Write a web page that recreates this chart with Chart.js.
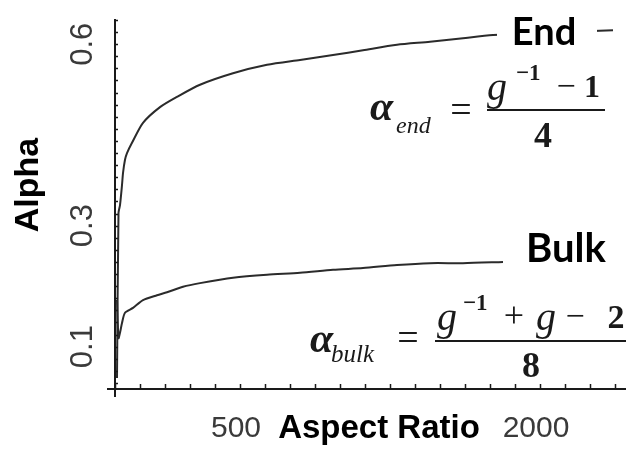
<!DOCTYPE html>
<html>
<head>
<meta charset="utf-8">
<script src="https://cdn.jsdelivr.net/npm/chart.js@4/dist/chart.umd.min.js"></script>
<style>
  html, body { margin: 0; padding: 0; background: #ffffff; }
  #wrap { position: relative; width: 626px; height: 450px; }
</style>
</head>
<body>
<div id="wrap"><canvas id="c" width="626" height="450"></canvas></div>
<script>
// Aspect ratio (x) and relaxation coefficient alpha (y) for the two regions
const aspectEnd = [-115, -107.5, -100, -90, -85, -75, -65, -40, 15, 100, 185, 300, 465, 635, 800, 965, 1115, 1285, 1450, 1615, 1765, 2365];
const alphaEnd  = [0.048, 0.321, 0.334, 0.367, 0.387, 0.409, 0.420, 0.437, 0.470, 0.496, 0.513, 0.533, 0.552, 0.566, 0.574, 0.582, 0.590, 0.599, 0.604, 0.610, 0.615, 0.623];

const aspectBulk = [-115, -107.5, -100, -90, -75, -35, 15, 85, 135, 215, 300, 465, 635, 800, 965, 1115, 1285, 1450, 1615, 1815];
const alphaBulk  = [0.177, 0.114, 0.123, 0.139, 0.156, 0.164, 0.177, 0.185, 0.190, 0.199, 0.205, 0.214, 0.219, 0.222, 0.227, 0.230, 0.235, 0.238, 0.238, 0.240];

// Axis labelling
const xTickLabels = [500, 2000];
const yTickLabels = [0.1, 0.3, 0.6];
const xMinorStep = 125;
const yMinorStep = 0.02;

const toPoints = (xs, ys) => xs.map((x, i) => ({ x: x, y: ys[i] }));

const INK = '#1a1a1a';

function txt(ctx, s, x, y, font, align, color) {
  ctx.font = font;
  ctx.textAlign = align || 'left';
  ctx.textBaseline = 'alphabetic';
  ctx.fillStyle = color || INK;
  ctx.fillText(s, x, y);
}

const decor = {
  id: 'decor',
  afterDraw(chart) {
    const ctx = chart.ctx;
    const xs = chart.scales.x, ys = chart.scales.y;
    const L = xs.left, B = ys.bottom;
    ctx.save();

    // axis stubs past the origin
    ctx.strokeStyle = INK;
    ctx.lineWidth = 2;
    ctx.beginPath();
    ctx.moveTo(L - 8, B); ctx.lineTo(L, B);
    ctx.moveTo(L, B); ctx.lineTo(L, B + 8);
    ctx.stroke();

    // minor tick marks, drawn inward
    ctx.lineWidth = 1.5;
    ctx.beginPath();
    for (let v = xs.min; v <= xs.max + 1e-6; v += xMinorStep) {
      const p = Math.round(xs.getPixelForValue(v)) + 0.5;
      ctx.moveTo(p, B); ctx.lineTo(p, B - 5);
    }
    for (let v = 0.04; v <= ys.max + 1e-6; v += yMinorStep) {
      const p = Math.round(ys.getPixelForValue(v)) + 0.5;
      ctx.moveTo(L, p); ctx.lineTo(L + 3, p);
    }
    ctx.stroke();

    // x tick labels and axis title share one row
    const rowY = 437;
    xTickLabels.forEach(v => {
      txt(ctx, String(v), xs.getPixelForValue(v) - 4, rowY, '30px "Liberation Sans"', 'center', '#3a3a3a');
    });
    txt(ctx, 'Aspect Ratio', 379, rowY + 1, 'bold 33px "Liberation Sans"', 'center', '#000');

    // y tick labels, rotated
    yTickLabels.forEach(v => {
      ctx.save();
      ctx.translate(92, ys.getPixelForValue(v));
      ctx.rotate(-Math.PI / 2);
      txt(ctx, String(v), 0, 0, '31px "Liberation Sans"', 'center', '#3a3a3a');
      ctx.restore();
    });
    ctx.save();
    ctx.translate(38, 185);
    ctx.rotate(-Math.PI / 2);
    txt(ctx, 'Alpha', 0, 0, 'bold 34px "Liberation Sans"', 'center', '#000');
    ctx.restore();

    // curve names on white plates
    ctx.fillStyle = '#ffffff';
    ctx.fillRect(497, 8, 100, 48);
    ctx.fillRect(515, 222, 100, 46);
    txt(ctx, 'End', 544, 45, 'bold 38px Lato', 'center', '#000');
    txt(ctx, 'Bulk', 566, 262, 'bold 40px Lato', 'center', '#000');

    // alpha_end = (g^-1 - 1) / 4
    const serif = '"Liberation Serif"';
    txt(ctx, 'α', 370, 120, 'bold italic 42px ' + serif);
    txt(ctx, 'end', 396, 133, 'italic 24px ' + serif);
    txt(ctx, '=', 461, 122, '38px ' + serif, 'center');
    ctx.fillStyle = INK;
    ctx.fillRect(487, 109, 118, 2);
    txt(ctx, 'g', 487, 100, 'italic 40px ' + serif);
    txt(ctx, '−1', 516, 80, 'bold 23px ' + serif);
    txt(ctx, '−', 566, 97, '34px ' + serif, 'center');
    txt(ctx, '1', 592, 97, 'bold 32px ' + serif, 'center');
    txt(ctx, '4', 543, 147, 'bold 36px ' + serif, 'center');

    // alpha_bulk = (g^-1 + g - 2) / 8
    txt(ctx, 'α', 310, 352, 'bold italic 42px ' + serif);
    txt(ctx, 'bulk', 331, 362, 'italic 25px ' + serif);
    txt(ctx, '=', 408, 350, '38px ' + serif, 'center');
    ctx.fillStyle = INK;
    ctx.fillRect(435, 340, 191, 2);
    txt(ctx, 'g', 437, 330, 'italic 40px ' + serif);
    txt(ctx, '−1', 463, 310, 'bold 23px ' + serif);
    txt(ctx, '+', 514, 327, '36px ' + serif, 'center');
    txt(ctx, 'g', 536, 330, 'italic 40px ' + serif);
    txt(ctx, '−', 575, 327, '34px ' + serif, 'center');
    txt(ctx, '2', 616, 328, 'bold 34px ' + serif, 'center');
    txt(ctx, '8', 531, 377, 'bold 36px ' + serif, 'center');

    ctx.restore();
  }
};

new Chart(document.getElementById('c'), {
  type: 'line',
  data: {
    datasets: [
      { label: 'End', data: toPoints(aspectEnd, alphaEnd) },
      { label: 'Bulk', data: toPoints(aspectBulk, alphaBulk) }
    ]
  },
  options: {
    responsive: false,
    animation: false,
    devicePixelRatio: 1,
    layout: { padding: { left: 115, top: 20, right: 1, bottom: 61 } },
    elements: {
      line: { borderColor: '#2b2b2b', borderWidth: 2, tension: 0.25, fill: false },
      point: { radius: 0 }
    },
    plugins: { legend: { display: false }, tooltip: { enabled: false } },
    scales: {
      x: {
        type: 'linear', min: -125, max: 2425,
        grid: { display: false, drawTicks: false },
        ticks: { display: false },
        border: { display: true, color: INK, width: 2 }
      },
      y: {
        type: 'linear', min: 0.03, max: 0.64,
        grid: { display: false, drawTicks: false },
        ticks: { display: false },
        border: { display: true, color: INK, width: 2 }
      }
    }
  },
  plugins: [decor]
});
</script>
</body>
</html>
